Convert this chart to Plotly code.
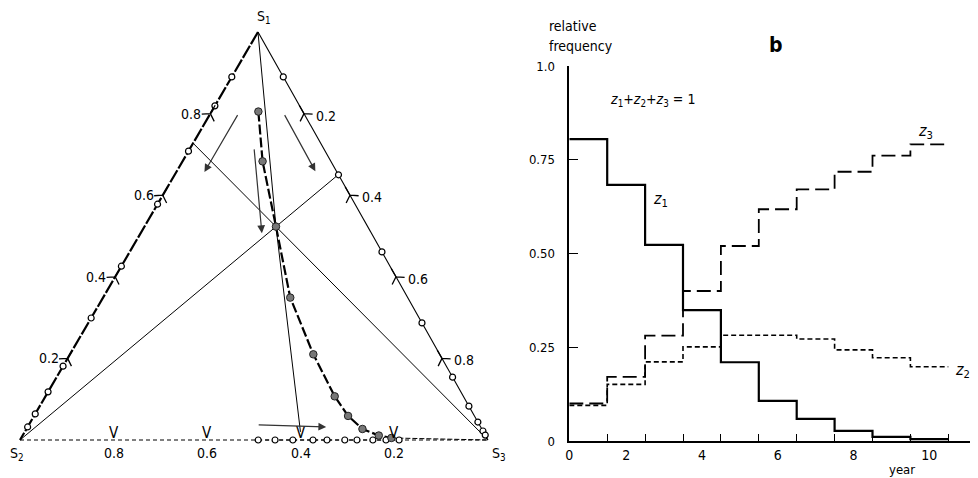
import math
import plotly.graph_objects as go

# panel b: relative frequency per year (same values form the grey trajectory in panel a)
z1 = [0.805, 0.683, 0.523, 0.349, 0.210, 0.107, 0.059, 0.027, 0.011, 0.005]
z2 = [0.095, 0.151, 0.211, 0.251, 0.282, 0.282, 0.272, 0.243, 0.222, 0.198]
z3 = [0.100, 0.171, 0.281, 0.400, 0.520, 0.618, 0.671, 0.718, 0.761, 0.791]
year_edges = list(range(11))
year_label_pos = [0, 1.5, 3.5, 5.5, 7.5, 9.5]
year_labels = ["0", "2", "4", "6", "8", "10"]
freq_ticks = [0, 0.25, 0.5, 0.75, 1.0]
freq_labels = ["0", "0.25", "0.50", "0.75", "1.0"]

# panel a: trajectories along the boundary
left_edge_z1 = [0.890, 0.819, 0.708, 0.578, 0.426, 0.299, 0.181, 0.118, 0.064, 0.032]   # z3 = 0
right_edge_z1 = [0.890, 0.650, 0.461, 0.287, 0.154, 0.083, 0.044, 0.022, 0.012]        # z2 = 0
bottom_z3 = [0.509, 0.545, 0.583, 0.626, 0.656, 0.694, 0.720, 0.754, 0.782, 0.810]      # z1 = 0
scale_ticks = [0.2, 0.4, 0.6, 0.8]

# flow arrows, (z1, z3) start -> end
arrow_start = [(0.80, 0.06), (0.80, 0.157), (0.716, 0.136), (0.037, 0.488)]
arrow_end = [(0.657, 0.06), (0.659, 0.296), (0.507, 0.259), (0.032, 0.638)]

H = math.sqrt(3) / 2
S1X = 0.5085          # apex sits slightly right of centre in the drawing
FONT = "DejaVu Sans Condensed, Liberation Sans Narrow, DejaVu Sans, sans-serif"
OFF = 8               # page body margin
W, HT = 978 - OFF, 478 - OFF


def tern(a, c):
    # (z1, z3) -> x, y   with S2 at (0,0), S3 at (1,0), S1 on top
    return c + S1X * a, a * H


def tern_list(a_list, c_list):
    pts = [tern(a, c) for a, c in zip(a_list, c_list)]
    return [p[0] for p in pts], [p[1] for p in pts]


fig = go.Figure()

# ---- panel a ----
bx, by = tern_list([0, 0], [0, 1])
fig.add_trace(go.Scatter(x=bx, y=by, mode="lines", line=dict(color="black", width=1, dash="4px,3px")))

lx, ly = tern_list([1] + left_edge_z1 + [0], [0] * (len(left_edge_z1) + 2))
fig.add_trace(go.Scatter(x=lx, y=ly, mode="lines", line=dict(color="black", width=2.2, dash="14px,2px")))

rx, ry = tern_list([1] + right_edge_z1 + [0], [0] + [1 - a for a in right_edge_z1] + [1])
fig.add_trace(go.Scatter(x=rx, y=ry, mode="lines", line=dict(color="black", width=1.1)))

# three lines through the year-3 state
c1, c3 = z1[2], z3[2]
c2 = 1 - c1 - c3
cev = [
    ([1, c1, 0.02], [0, c3, c3 / (1 - c1)]),
    ([c1 / (c1 + c2), c1, 0], [0, c3, 1]),
    ([c1 / (c1 + c3), c1, 0], [c3 / (c1 + c3), c3, 0]),
]
for a_list, c_list in cev:
    cx, cy = tern_list(a_list, c_list)
    fig.add_trace(go.Scatter(x=cx, y=cy, mode="lines", line=dict(color="black", width=1)))

# grey trajectory
gx, gy = tern_list(z1, z3)
tx, ty = tern_list([z1[-1], 0], [z3[-1], 1])
fig.add_trace(go.Scatter(x=tx, y=ty, mode="lines", line=dict(color="black", width=1, dash="5px,2px")))
fig.add_trace(go.Scatter(x=gx, y=gy, mode="lines", line=dict(color="black", width=2.2, dash="10px,3px")))

# bottom trajectory
btx, bty = tern_list([0] * len(bottom_z3), bottom_z3)
fig.add_trace(go.Scatter(x=btx, y=bty, mode="lines+markers", cliponaxis=False,
                         line=dict(color="black", width=1.2, dash="4px,3px"),
                         marker=dict(symbol="circle", size=6, color="white", line=dict(color="black", width=1.2))))

# open circles on the edges
ox, oy = tern_list(left_edge_z1, [0] * len(left_edge_z1))
ox2, oy2 = tern_list(right_edge_z1, [1 - a for a in right_edge_z1])
fig.add_trace(go.Scatter(x=ox + ox2, y=oy + oy2, mode="markers", cliponaxis=False,
                         marker=dict(symbol="circle", size=6, color="white", line=dict(color="black", width=1.2))))

fig.add_trace(go.Scatter(x=gx, y=gy, mode="markers", cliponaxis=False,
                         marker=dict(symbol="circle", size=7.5, color="#777777", line=dict(color="#222222", width=1))))

# scale marks on the edges
kx, ky = tern_list(scale_ticks[::-1], [0] * 4)
fig.add_trace(go.Scatter(x=kx, y=ky, mode="markers",
                         marker=dict(symbol="y-up", size=12, angle=30, color="black",
                                     line=dict(color="black", width=1.3))))
kx2, ky2 = tern_list([1 - t for t in scale_ticks], scale_ticks)
fig.add_trace(go.Scatter(x=kx2, y=ky2, mode="markers",
                         marker=dict(symbol="y-up", size=12, angle=-30, color="black",
                                     line=dict(color="black", width=1.3))))

annotations = []
for t in scale_ticks:
    x, y = tern(0, 1 - t)
    annotations.append(dict(x=x, y=y, xref="x", yref="y", text="V", showarrow=False, yanchor="bottom",
                            yshift=-4, font=dict(family=FONT, size=15, color="black")))

for (a0, c0), (a1, c1_) in zip(arrow_start, arrow_end):
    x0, y0 = tern(a0, c0)
    x1, y1 = tern(a1, c1_)
    annotations.append(dict(x=x1, y=y1, ax=x0, ay=y0, xref="x", yref="y", axref="x", ayref="y",
                            text="", showarrow=True, arrowhead=2, arrowsize=1.3, arrowwidth=1.2,
                            arrowcolor="#333333"))

# edge scale labels
for t in scale_ticks:
    x, y = tern(t, 0)
    annotations.append(dict(x=x, y=y, xref="x", yref="y", text=str(t), showarrow=False,
                            xshift=-19, font=dict(family=FONT, size=14, color="black")))
    x, y = tern(1 - t, t)
    annotations.append(dict(x=x, y=y, xref="x", yref="y", text=str(t), showarrow=False,
                            xshift=22, yshift=-2, font=dict(family=FONT, size=14, color="black")))
    x, y = tern(0, 1 - t)
    annotations.append(dict(x=x, y=y, xref="x", yref="y", text=str(t), showarrow=False,
                            yshift=-13, font=dict(family=FONT, size=14, color="black")))

for name, (a, c), dx, dy in [("S<sub>1</sub>", (1, 0), 6, 15), ("S<sub>2</sub>", (0, 0), -3, -14),
                             ("S<sub>3</sub>", (0, 1), 11, -14)]:
    x, y = tern(a, c)
    annotations.append(dict(x=x, y=y, xref="x", yref="y", text=name, showarrow=False,
                            xshift=dx, yshift=dy, font=dict(family=FONT, size=14, color="black")))

# ---- panel b ----
fig.add_trace(go.Scatter(x=year_edges, y=z1 + [z1[-1]], mode="lines", line_shape="hv", xaxis="x2", yaxis="y2",
                         line=dict(color="black", width=2.2)))
fig.add_trace(go.Scatter(x=year_edges, y=z3 + [z3[-1]], mode="lines", line_shape="hv", xaxis="x2", yaxis="y2",
                         line=dict(color="black", width=1.8, dash="14px,6px")))
fig.add_trace(go.Scatter(x=year_edges, y=z2 + [z2[-1]], mode="lines", line_shape="hv", xaxis="x2", yaxis="y2",
                         line=dict(color="black", width=1.6, dash="5px,3px")))


def px(x, y, xanchor="center"):
    # position given in screenshot pixels
    return dict(x=(x - OFF) / W, y=1 - (y - OFF) / HT, xref="paper", yref="paper", showarrow=False,
                xanchor=xanchor, yanchor="middle")


annotations += [
    dict(**px(547, 26, "left"), text="relative", font=dict(family=FONT, size=14, color="black")),
    dict(**px(547, 46, "left"), text="frequency", font=dict(family=FONT, size=14, color="black")),
    dict(**px(776, 45), text="<b>b</b>", font=dict(family=FONT, size=21, color="black")),
    dict(**px(608, 100, "left"), text="<i>z</i><sub>1</sub>+<i>z</i><sub>2</sub>+<i>z</i><sub>3</sub> = 1",
         font=dict(family=FONT, size=14, color="black")),
    dict(**px(660, 200), text="<i>z</i><sub>1</sub>", font=dict(family=FONT, size=16, color="black")),
    dict(**px(925, 131), text="<i>z</i><sub>3</sub>", font=dict(family=FONT, size=16, color="black")),
    dict(**px(962, 370), text="<i>z</i><sub>2</sub>", font=dict(family=FONT, size=16, color="black")),
    dict(**px(902, 469), text="year", font=dict(family=FONT, size=13, color="black")),
]

# axis placement, in screenshot pixels: S2 at x=20, S3 at x=488, base at y=440, apex at y=32;
# panel b origin at (569.3, 441), 37.9 px per year, 375 px per unit frequency
left_w = 0.53 * W
y_scale = 408 / H
base_from_bottom = 478 - 440
fig.update_layout(
    width=W, height=HT, margin=dict(l=0, r=0, t=0, b=0, pad=0, autoexpand=False),
    paper_bgcolor="white", plot_bgcolor="rgba(0,0,0,0)", showlegend=False,
    annotations=annotations,
    xaxis=dict(domain=[0, 0.53], range=[-(20 - OFF) / 468, (left_w - (20 - OFF)) / 468],
               visible=False, automargin=False),
    yaxis=dict(domain=[0, 1], range=[-base_from_bottom / y_scale, (HT - base_from_bottom) / y_scale],
               visible=False, automargin=False),
    xaxis2=dict(domain=[(569.3 - OFF) / W, 1], range=[0, (978 - 569.3) / 37.9], anchor="y2", automargin=False,
                showline=True, linecolor="black", linewidth=1.5, showgrid=False, zeroline=False,
                tickmode="array", tickvals=year_label_pos, ticktext=year_labels, ticks="",
                tickfont=dict(family=FONT, size=14, color="black"),
                minor=dict(tickmode="array", tickvals=list(range(1, 11)), ticks="inside",
                           ticklen=7, tickwidth=1.2, tickcolor="black")),
    yaxis2=dict(domain=[37 / HT, 412 / HT], range=[0, 1], anchor="x2", automargin=False,
                showline=True, linecolor="black", linewidth=1.5, showgrid=False, zeroline=False,
                tickmode="array", tickvals=freq_ticks, ticktext=freq_labels, ticks="inside",
                ticklen=9, tickwidth=1.3, tickcolor="black", ticklabelstandoff=10,
                tickfont=dict(family=FONT, size=13, color="black")),
)

fig.write_html("out.html")
